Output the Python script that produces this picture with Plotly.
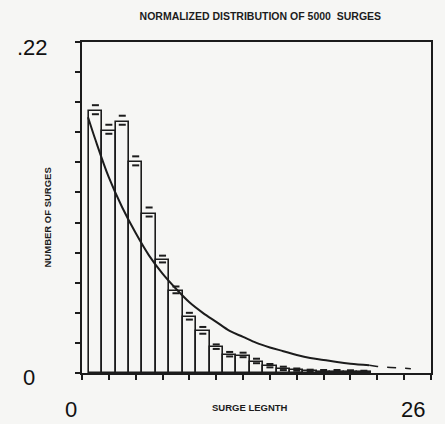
import plotly.graph_objects as go

# Bar data: surge length (bin centres) and normalized counts
lengths = list(range(1, 22))
fractions = [0.174, 0.161, 0.167, 0.140, 0.106, 0.075, 0.0545, 0.037, 0.0276,
             0.017, 0.012, 0.0115, 0.0075, 0.0045, 0.0027, 0.002, 0.0012,
             0.001, 0.001, 0.0008, 0.0005]
errors = [0.004, 0.004, 0.004, 0.004, 0.004, 0.003, 0.003, 0.003, 0.003,
          0.002, 0.002, 0.002, 0.002, 0.0015, 0.0015, 0.001, 0.001,
          0.001, 0.001, 0.001, 0.001]

# Fitted curve (solid and dashed tail)
curve_x = [0.45, 1, 2, 3, 4, 5, 6, 7, 8, 9, 10, 11, 12, 13, 14, 15, 16, 17,
           18, 19, 20, 21.4]
curve_y = [0.170, 0.155, 0.130, 0.110, 0.093, 0.078, 0.066, 0.056, 0.047,
           0.040, 0.034, 0.028, 0.024, 0.020, 0.017, 0.0145, 0.012, 0.010,
           0.0087, 0.0073, 0.0062, 0.0052]
tail_x = [21.4, 22, 23, 24, 24.5]
tail_y = [0.0052, 0.0044, 0.0037, 0.0031, 0.0029]

ink = "#1c1c1c"
fig = go.Figure()
fig.add_trace(go.Bar(x=lengths, y=fractions, width=1,
                     marker=dict(color="rgba(255,255,255,0)",
                                 line=dict(color=ink, width=1.6)),
                     showlegend=False))
fig.add_trace(go.Scatter(x=lengths, y=[f + e for f, e in zip(fractions, errors)],
                         mode="markers",
                         marker=dict(symbol="line-ew", size=5,
                                     line=dict(color=ink, width=2)),
                         showlegend=False))
fig.add_trace(go.Scatter(x=lengths, y=[f - e / 2 for f, e in zip(fractions, errors)],
                         mode="markers",
                         marker=dict(symbol="line-ew", size=5,
                                     line=dict(color=ink, width=2)),
                         showlegend=False))
fig.add_trace(go.Scatter(x=curve_x, y=curve_y, mode="lines", line_shape="spline",
                         line=dict(color=ink, width=2), showlegend=False))
fig.add_trace(go.Scatter(x=tail_x, y=tail_y, mode="lines",
                         line=dict(color=ink, width=1.5, dash="dash"),
                         showlegend=False))

bg = "#f6f6f4"
fig.update_layout(
    width=445, height=424,
    margin=dict(l=82, r=12, t=42, b=51),
    paper_bgcolor=bg, plot_bgcolor=bg,
    bargap=0,
    title=dict(text="<b>NORMALIZED DISTRIBUTION OF 5000  SURGES</b>",
               x=0.585, xanchor="center", y=0.962, yanchor="middle",
               font=dict(family="Liberation Sans", size=10.5, color=ink)),
    xaxis=dict(range=[0, 26], tickvals=list(range(0, 27, 2)),
               showticklabels=False, ticks="outside", ticklen=5,
               tickcolor=ink, tickwidth=2, showgrid=False, zeroline=False,
               showline=True, linecolor=ink, linewidth=2, mirror=True),
    yaxis=dict(range=[0, 0.22], tickvals=[i * 0.02 for i in range(12)],
               showticklabels=False, ticks="outside", ticklen=5,
               tickcolor=ink, tickwidth=2, showgrid=False, zeroline=False,
               showline=True, linecolor=ink, linewidth=2, mirror=True),
    font=dict(family="Liberation Sans", color=ink),
)

big = dict(family="Liberation Sans", size=22, color="#111")
fig.add_annotation(text=".22", xref="paper", yref="paper", x=0, y=1.0,
                   xanchor="right", yanchor="middle", showarrow=False,
                   font=big, xshift=-32, yshift=-5)
fig.add_annotation(text="0", xref="paper", yref="paper", x=0, y=0,
                   xanchor="center", yanchor="middle", showarrow=False,
                   font=big, xshift=-53, yshift=-4)
fig.add_annotation(text="0", xref="paper", yref="paper", x=0, y=0,
                   xanchor="center", yanchor="middle", showarrow=False,
                   font=big, xshift=-11, yshift=-36)
fig.add_annotation(text="26", xref="paper", yref="paper", x=1, y=0,
                   xanchor="center", yanchor="middle", showarrow=False,
                   font=big, xshift=-18, yshift=-36)
fig.add_annotation(text="<b>SURGE LEGNTH</b>", xref="paper", yref="paper",
                   x=0.48, y=0, xanchor="center", yanchor="middle",
                   showarrow=False, yshift=-34,
                   font=dict(family="Liberation Sans", size=9.5, color=ink))
fig.add_annotation(text="<b>NUMBER OF SURGES</b>", xref="paper", yref="paper",
                   x=0, y=0.5, xanchor="center", yanchor="middle",
                   showarrow=False, xshift=-35, yshift=-10, textangle=-90,
                   font=dict(family="Liberation Sans", size=9.5, color=ink))

fig.write_html("out.html", config={"displayModeBar": False},
               post_script="document.body.style.margin='0';"
                           "document.body.style.background='#f6f6f4';")
